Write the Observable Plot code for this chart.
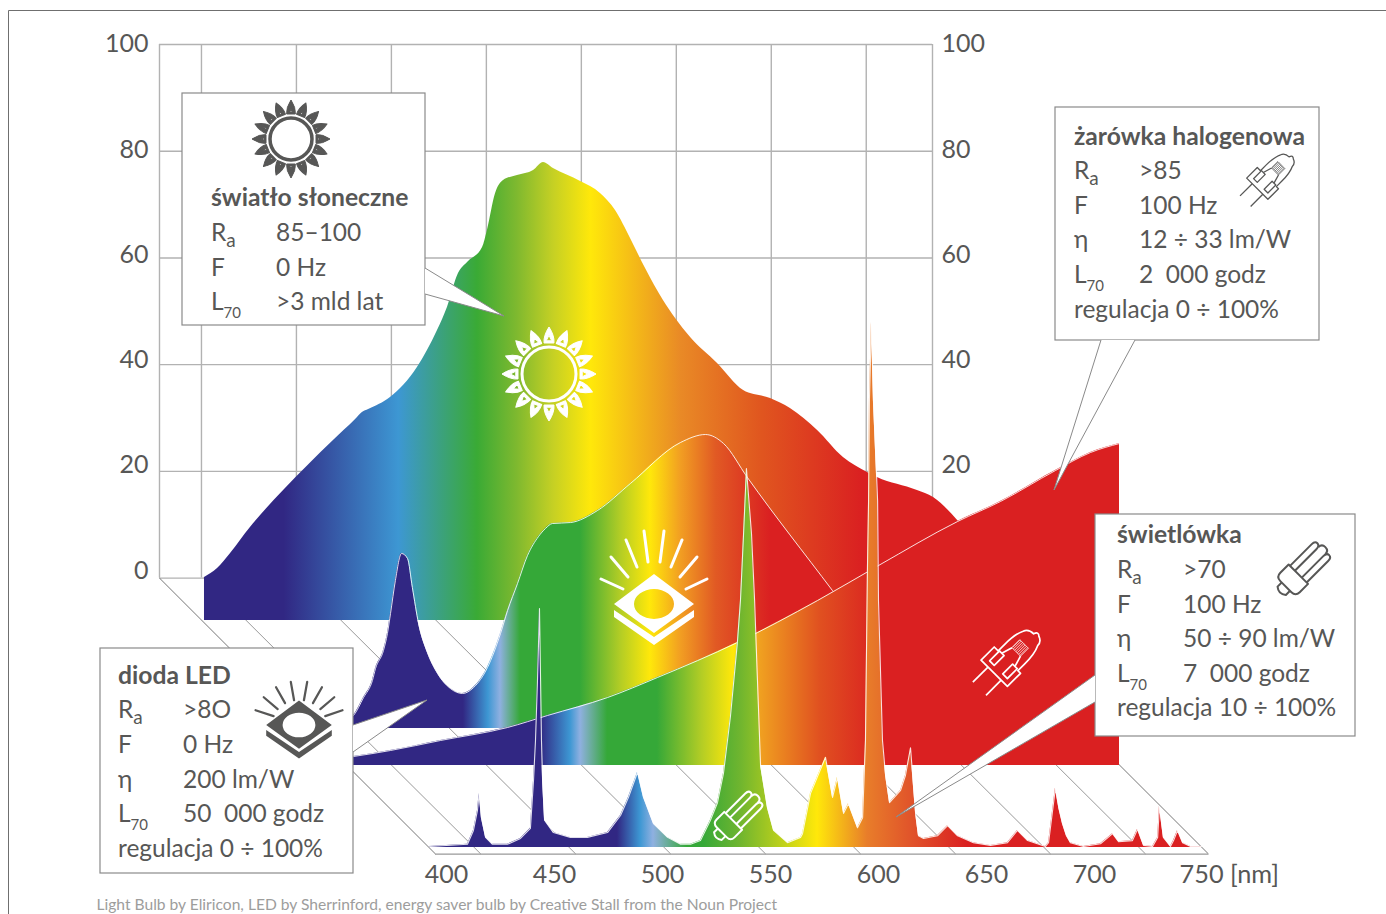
<!DOCTYPE html>
<html lang="pl">
<head>
<meta charset="utf-8">
<title>Widma źródeł światła</title>
<style>
html,body{margin:0;padding:0;background:#fff}
svg{display:block}
</style>
<script src="https://cdn.jsdelivr.net/npm/d3@7"></script>
<script src="https://cdn.jsdelivr.net/npm/@observablehq/plot@0.6"></script>
</head>
<body>
<div id="chart"></div>
<script>
// ---------- spectra: wavelength [nm] and relative intensity ----------
const sunNm = [400,405.9,411.8,420.8,425.4,435.8,458.4,468.4,471.5,474.3,484.2,496.4,505.5,510,515,519.1,525.9,528.1,531.8,535.4,541.7,549,553.5,558,570.3,579.3,586.1,592.9,599.7,607.8,613.3,620.1,632.3,644.1,656.3,665.3,677.6,689.3,700.2,704.7,722.8,730.1,741,750];
const sunValues = [8.06,9.74,12.56,17.43,19.68,24.36,33.73,37.67,38.98,39.54,41.79,47.41,54.35,58.66,65.03,67.09,69.9,73.09,80.02,82.46,83.39,84.33,85.83,84.7,82.27,80.02,76.83,71.59,65.96,59.97,56.59,53.03,48.16,43.1,41.6,39.73,35.61,30.55,27.74,26.8,24.36,23.05,18.74,14.06];

const ledNm = [400,414,419.9,424.5,428.5,429.9,433.5,435.3,436.7,438.9,441.7,444.4,446.6,449.4,453.4,458,463.8,469.3,474.3,480.6,486.5,489.7,494.2,498.7,503.7,506.9,510,518.2,530.4,545.3,568,579.3,587.5,598.3,636.8,667.6,712.9,750];
const ledValues = [.37,1.1,2.44,5.81,9,11.24,14.62,17.8,21.55,27.74,32.8,31.86,26.42,19.68,14.24,10.31,7.5,6.56,7.68,11.43,17.8,22.11,27.17,32.4,35.98,37.5,38.42,38.6,40.85,45.91,53.6,55.1,53.41,47.04,25.86,9,2.44,.37];

const halogenNm = [400,403.2,419.9,442.6,472.9,491,518.2,540.8,577,613.3,640.9,676.7,696.1,721,736.9,750];
const halogenValues = [1.5,1.69,2.81,4.69,7.12,9.37,12.74,16.49,23.05,30.92,37.48,45.73,49.47,55.28,58.66,60.34];

const fluoNm = [400,417.2,419.9,421.7,422.5,423.5,425.4,428.5,435.3,441.2,445.7,447.1,448,448.9,449.8,450.3,450.7,451.2,452.1,456.1,463.8,471.5,480.6,486.5,490.1,494.2,496.9,501.4,507.8,513.7,518.2,522.7,527.2,530.4,533.1,536.3,539.4,540.8,542.2,543.5,545.8,547.2,548.5,549.9,553,555.8,562.1,568,568.9,572.5,579.3,582.5,584.7,587.5,589.7,593.8,596.1,597.4,598.3,598.8,599.2,600.1,601,602.9,603.3,605.1,606.5,608.3,613.3,615.5,617.8,620.1,621.4,623.7,630,634.6,639.1,646.3,654,661.7,666.2,670.8,678.9,680.3,683.4,685,686.6,688.4,690.2,696.1,703.8,709.3,712,718.3,720.6,723.3,727.4,729.7,730.5,732.3,735.5,736.9,738.7,741,744.6,749.5];
const fluoValues = [.2,.6,3.2,6.9,10.1,5.6,1.9,.6,.6,1.7,3.6,12.6,20.1,31.3,44.8,31.3,20.1,12.6,5.1,2.8,1.9,1.9,2.8,6,9.4,14.1,9.4,4.5,1.9,.6,.6,1.3,5.1,8.4,13.9,24.7,38.4,46.3,58.8,71,58.8,46.3,31.3,15.4,7.5,3.2,.9,1.9,2.6,10.1,16.9,9.4,13.1,6.4,8.2,3.7,5.6,20.1,52.5,65,83.8,98.4,83.8,65,46.3,20.1,13.5,8.4,10.7,13.5,18.7,6.4,2.2,1.7,2.2,4.1,2.2,.9,.4,.9,3.2,1.3,.2,.9,11.1,7.3,4.5,2.2,.9,.2,.7,2.6,1.1,1.3,3.4,.4,.2,1.9,7.7,1.9,.2,1.3,3.2,.9,.2,.2];

// ---------- colour ramps along the wavelength of each spectrum ----------
const sunRampNm = [436,488,523.6,541.7,558,575,615.5,652,698];
const sunRampColors = ["#312783","#3d97d3","#3aaa35","#7fb92f","#c5d024","#ffe80a","#e98a26","#e0561f","#da2021"];
const ledRampNm = [469.7,481,486.5,495.5,522.7,541,554.4,568,584,608.7];
const ledRampColors = ["#312783","#3d97d3","#8fb0e0","#35a838","#35a838","#b3cd25","#ffe80a","#f29f22","#e15a24","#da2021"];
const halogenRampNm = [487.8,501.4,506,518.2,540.8,561,575.2,587.5,614.6,641.8];
const halogenRampColors = ["#312783","#3d97d3","#8fb0e0","#35a838","#35a838","#b3cd25","#ffe80a","#f0a020","#e05020","#da2021"];
const fluoRampNm = [485.1,495.5,501.4,516.8,524,540.8,575.7,598.3,620,643.6];
const fluoRampColors = ["#312783","#3d97d3","#8fb0e0","#35a838","#35a838","#6fb52f","#ffe80a","#e87d2a","#e0502a","#da2021"];

// ---------- axes ----------
const wallTicks = [0,20,40,60,80,100];
const wallRightTicks = [20,40,60,80,100];
const wallGridNm = [419,462,505,548,591,634,677,720];
const frontLabels = [400,450,500,550,600,650,700];

// ---------- pseudo-3D depth of each layer, in axis units ----------
const floorDepth = {nm:125, value:51.72};
const layers = [
  {id:"sun", nm:sunNm, v:sunValues, rampNm:sunRampNm, rampColors:sunRampColors, shift:20.37, drop:7.95, line:0, curve:"monotone-x"},
  {id:"led", nm:ledNm, v:ledValues, rampNm:ledRampNm, rampColors:ledRampColors, shift:67.9, drop:28.19, line:1, curve:"monotone-x"},
  {id:"hal", nm:halogenNm, v:halogenValues, rampNm:halogenRampNm, rampColors:halogenRampColors, shift:84.67, drop:35.12, line:1, curve:"monotone-x"},
  {id:"flu", nm:fluoNm, v:fluoValues, rampNm:fluoRampNm, rampColors:fluoRampColors, shift:122.25, drop:50.49, line:1.1, curve:"linear"}
];

const INK = "#575756";
const FONT = "Lato, sans-serif";

// ---------- callouts ----------
const callouts = [
  {box:[182,93,425,325], ptr:[[425,268],[504,316],[425,294]], x:211, vx:276, title:"światło słoneczne", ty:206,
   rows:[["R","a","85–100",241],["F","","0 Hz",276],["L","70",">3 mld lat",310]]},
  {box:[1055,107,1319,340], ptr:[[1101,340],[1054,490],[1135,340]], x:1074, vx:1139, title:"żarówka halogenowa", ty:144.5,
   rows:[["R","a",">85",179],["F","","100 Hz",214],["η","","12 ÷ 33 lm/W",248],["L","70","2\u00a0\u00a0000 godz",283]], foot:["regulacja 0 ÷ 100%",318]},
  {box:[1095,514,1355,736], ptr:[[1095,675],[896,817],[1095,702]], x:1117, vx:1183, title:"świetlówka", ty:543,
   rows:[["R","a",">70",578],["F","","100 Hz",613],["η","","50 ÷ 90 lm/W",647],["L","70","7\u00a0\u00a0000 godz",682]], foot:["regulacja 10 ÷ 100%",716]},
  {box:[100,648,353,873], ptr:[[353,725],[427,700],[353,752]], x:118, vx:183, title:"dioda LED", ty:684,
   rows:[["R","a",">8O",718],["F","","0 Hz",753],["η","","200 lm/W",788],["L","70","50\u00a0\u00a0000 godz",822]], foot:["regulacja 0 ÷ 100%",857]}
];

function calloutsMark() {
  const root = d3.create("svg:g");
  for (const c of callouts) {
    const [x0,y0,x1,y1] = c.box;
    const g = root.append("g");
    g.append("rect").attr("x",x0).attr("y",y0).attr("width",x1-x0).attr("height",y1-y0)
      .attr("fill","#fff").attr("stroke","#8a8a8a").attr("stroke-width",1.2);
    g.append("polygon").attr("points",c.ptr.map(p=>p.join(",")).join(" ")).attr("fill","#fff").attr("stroke","none");
    g.append("polyline").attr("points",c.ptr.map(p=>p.join(",")).join(" ")).attr("fill","none").attr("stroke","#8a8a8a").attr("stroke-width",1);
    const t = (x,y,s,size,weight) => g.append("text").attr("x",x).attr("y",y).attr("fill",INK)
      .attr("font-family",FONT).attr("font-size",size).attr("font-weight",weight||400).attr("text-anchor","start").text(s);
    t(c.x,c.ty,c.title,24.7,700);
    for (const [a,sub,val,y] of c.rows) {
      const lab = t(c.x,y,a,24.5);
      if (sub) lab.append("tspan").attr("dy",sub==="a"?6:8).attr("font-size",sub==="a"?19:15).text(sub);
      t(c.vx,y,val,24.5);
    }
    if (c.foot) t(c.x,c.foot[1],c.foot[0],24.5);
  }
  return root.node();
}

// ---------- pictograms ----------
function sunIcon(parent,cx,cy,R,ring,base,ringW,color,hole){
  const g = parent.append("g").attr("transform",`translate(${cx},${cy})`);
  g.append("circle").attr("r",ring).attr("fill","none").attr("stroke",color).attr("stroke-width",ringW);
  const h = (R-base);
  const w = h*0.31;
  const petal = `M${-w},${-base} Q${-w*1.15},${-base-h*0.45} 0,${-R} Q${w*1.15},${-base-h*0.45} ${w},${-base} Z`
    + ` M${-w*hole},${-base-h*0.14} L${w*hole},${-base-h*0.14} L0,${-base-h*(0.14+hole*0.62)} Z`;
  for (let i=0;i<16;i++) g.append("path").attr("d",petal).attr("fill",color).attr("fill-rule","evenodd")
    .attr("stroke",color).attr("stroke-width",1).attr("stroke-linejoin","round").attr("transform",`rotate(${i*22.5})`);
}
const ledRays = [[-53,-25,-31,-15],[-43,-47,-26,-27],[-28,-64,-17,-37],[-10,-73,-6,-42],[10,-73,6,-42],[28,-64,17,-37],[43,-47,26,-27],[53,-25,32,-15]];
function ledIcon(parent,cx,cy,s,color,rayShrink){
  const g = parent.append("g").attr("transform",`translate(${cx},${cy}) scale(${s})`);
  g.append("path").attr("fill-rule","evenodd").attr("fill",color)
    .attr("d","M0,-30 L40,0 L0,29 L-40,0 Z M-20,0 A20,15 0 1,0 20,0 A20,15 0 1,0 -20,0 Z");
  g.append("path").attr("fill",color).attr("d","M-40,6 L0,33 L40,6 L40,13 L0,41 L-40,13 Z");
  for (const [a,b,c,d] of ledRays) {
    const k = rayShrink;
    g.append("line").attr("x1",a).attr("y1",b*k).attr("x2",c).attr("y2",d*k)
      .attr("stroke",color).attr("stroke-width",3/s*(s<1?0.75:1)).attr("stroke-linecap","round");
  }
}
function cflIcon(parent,cx,cy,s,color,sw){
  const g = parent.append("g").attr("transform",`translate(${cx},${cy}) rotate(45) scale(${s})`)
    .attr("fill","none").attr("stroke",color).attr("stroke-width",sw/s).attr("stroke-linejoin","round");
  g.append("path").attr("d","M-6,24 L-6,30 Q0,35 6,30 L6,24");
  g.append("path").attr("d","M-14,6 L14,6 L14,18 Q14,24 8,24 L-8,24 Q-14,24 -14,18 Z");
  g.append("path").attr("d","M-12,6 L-12,-25 Q-12,-30 -8.5,-30 Q-5,-30 -5,-25 L-5,6");
  g.append("path").attr("d","M5,6 L5,-25 Q5,-30 8.5,-30 Q12,-30 12,-25 L12,6");
  g.append("path").attr("d","M-5,-28 Q-5,-33 0,-33 Q5,-33 5,-28");
}
function halogenIcon(parent,cx,cy,s,color,sw){
  const g = parent.append("g").attr("transform",`translate(${cx},${cy}) rotate(45) scale(${s})`)
    .attr("fill","none").attr("stroke",color).attr("stroke-width",sw/s).attr("stroke-linejoin","round");
  g.append("path").attr("d","M-20,24 L-20,4 L-14,4 L-14,-6 Q-14,-22 -10,-30 Q-8,-36 0,-36 Q2,-42 6,-38 Q12,-36 12,-30 Q16,-22 16,-6 L16,4 L20,4 L20,24 Z");
  g.append("rect").attr("x",-13).attr("y",3).attr("width",7).attr("height",15);
  g.append("rect").attr("x",7).attr("y",3).attr("width",7).attr("height",15);
  g.append("line").attr("x1",-9.5).attr("x2",-9.5).attr("y1",24).attr("y2",47);
  g.append("line").attr("x1",10.5).attr("x2",10.5).attr("y1",24).attr("y2",47);
  g.append("path").attr("d","M-9.5,3 L-6,-9 M10.5,3 L7,-9");
  const f = g.append("g").attr("stroke-width",0.7/s);
  for (let i=0;i<7;i++) f.append("line").attr("x1",-6+2*i).attr("x2",-6+2*i).attr("y1",-21).attr("y2",-9);
  f.append("rect").attr("x",-6).attr("y",-21).attr("width",13).attr("height",12);
}
function iconsMark(){
  const root = d3.create("svg:g");
  sunIcon(root,291,139,39,21,25,3.5,INK,0.3);
  sunIcon(root,549,374,47,27,31,3,"#fff",0.55);
  ledIcon(root,654,604,1,"#fff",1);
  ledIcon(root,299,725,0.82,INK,0.72);
  cflIcon(root,737,817,0.9,"#fff",2);
  cflIcon(root,1302.5,570,0.98,INK,2);
  halogenIcon(root,1010,657.5,0.93,"#fff",1.7);
  halogenIcon(root,1270,176,0.75,INK,1.3);
  return root.node();
}

// ---------- page frame ----------
function frameMark(){
  const root = d3.create("svg:g");
  root.append("path").attr("d","M1386,10.5 L8.5,10.5 L8.5,914").attr("fill","none").attr("stroke","#6f6f6f").attr("stroke-width",1);
  return root.node();
}

// ---------- build ----------
const rows = l => l.nm.map((nm,i)=>({nm, v:l.v[i]}));
const spectrumMarks = layers.flatMap(l => {
  const data = rows(l);
  const X = d => d.nm + l.shift;
  const out = [Plot.areaY(data,{x:X, y1:()=>-l.drop, y2:d=>d.v-l.drop, fill:`url(#grad-${l.id})`, curve:l.curve})];
  if (l.line) out.push(Plot.line(data,{x:X, y:d=>d.v-l.drop, stroke:"#fff", strokeWidth:l.line, strokeOpacity:0.85, curve:l.curve}));
  return out;
});

const wallLabelY = v => 1.41 + 0.986*v;
const frontLabelX = nm => 530 + (nm-400)*0.978;
const frontLabelY = -55.55;
const tickFont = {fontFamily:FONT, fontSize:25, fill:INK};

const plot = Plot.plot({
  width:1386, height:914,
  marginTop:0, marginRight:0, marginBottom:0, marginLeft:0,
  style:{background:"#fff", overflow:"visible"},
  x:{domain:[400,750], range:[159,932], axis:null},
  y:{domain:[0,100], range:[577.6,44], axis:null},
  marks:[
    frameMark,
    Plot.ruleY(wallTicks,{x1:400,x2:750,stroke:"#b2b2b2",strokeWidth:1.4}),
    Plot.ruleX([400,...wallGridNm,750],{y1:0,y2:100,stroke:"#b2b2b2",strokeWidth:1.4}),
    Plot.link(wallGridNm,{x1:d=>d+1,y1:0,x2:d=>d+126.5,y2:-floorDepth.value,stroke:"#999",strokeWidth:1}),
    Plot.link([400,750],{x1:d=>d,y1:0,x2:d=>d+floorDepth.nm,y2:-floorDepth.value,stroke:"#777",strokeWidth:1}),
    Plot.ruleY([-floorDepth.value],{x1:400+floorDepth.nm,x2:750+floorDepth.nm,stroke:"#999",strokeWidth:1.2}),
    Plot.text(wallTicks,{x:()=>400,y:wallLabelY,text:d=>String(d),textAnchor:"end",dx:-11,...tickFont}),
    Plot.text(wallRightTicks,{x:()=>750,y:wallLabelY,text:d=>String(d),textAnchor:"start",dx:9,...tickFont}),
    ...spectrumMarks,
    Plot.text(frontLabels,{x:frontLabelX,y:()=>frontLabelY,text:d=>String(d),textAnchor:"middle",...tickFont}),
    Plot.text([750],{x:frontLabelX,y:()=>frontLabelY,text:d=>d+"\u00a0[nm]",textAnchor:"start",dx:-23,...tickFont,fontSize:25.3}),
    calloutsMark,
    iconsMark,
    Plot.text(["Light Bulb by Eliricon, LED by Sherrinford, energy saver bulb by Creative Stall from the Noun Project"],
      {x:()=>400,y:()=>-61.35,dx:-63,text:d=>d,textAnchor:"start",fontFamily:FONT,fontSize:15.6,fill:"#9d9d9c"})
  ]
});

// gradients follow each layer's wavelength axis through the x scale
const xScale = plot.scale("x");
const defs = d3.select(plot).insert("defs",":first-child");
for (const l of layers) {
  const lg = defs.append("linearGradient").attr("id",`grad-${l.id}`).attr("gradientUnits","userSpaceOnUse")
    .attr("x1",xScale.apply(400+l.shift)).attr("x2",xScale.apply(750+l.shift)).attr("y1",0).attr("y2",0);
  l.rampNm.forEach((nm,i)=>lg.append("stop").attr("offset",(nm-400)/350).attr("stop-color",l.rampColors[i]));
}
document.getElementById("chart").append(plot);
</script>
</body>
</html>
